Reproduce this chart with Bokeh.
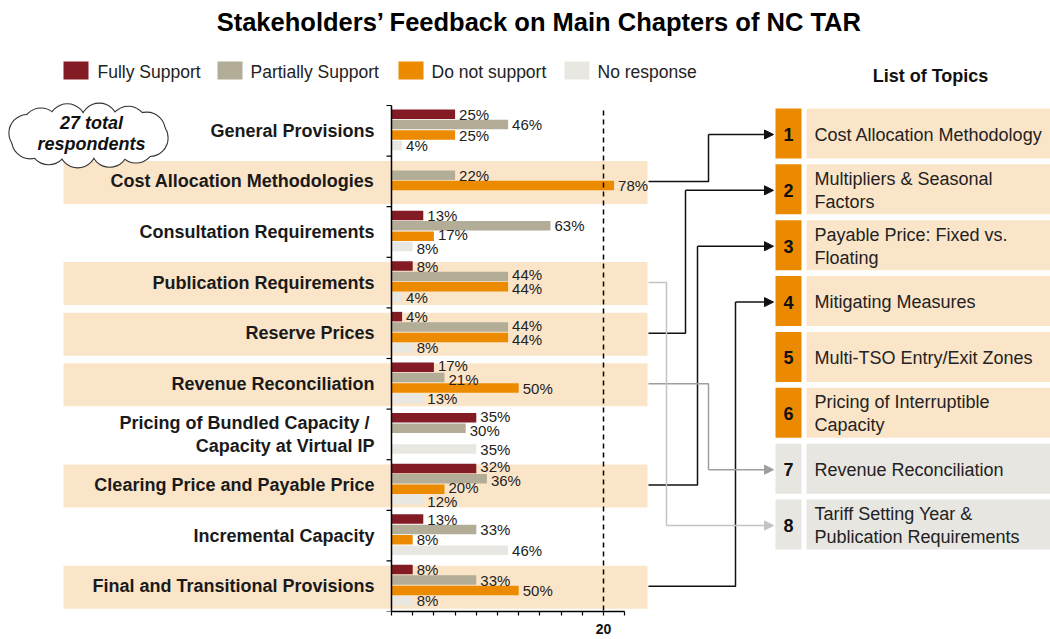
from bokeh.plotting import figure
from bokeh.models import Range1d, FixedTicker, ColumnDataSource, Arrow, NormalHead
from bokeh.core.properties import value
from bokeh.embed import file_html
from bokeh.resources import INLINE
import math

# ---------------- data ----------------
title = "Stakeholders\u2019 Feedback on Main Chapters of NC TAR"
chapters = ["General Provisions", "Cost Allocation Methodologies", "Consultation Requirements",
            "Publication Requirements", "Reserve Prices", "Revenue Reconciliation",
            "Pricing of Bundled Capacity / \nCapacity at Virtual IP",
            "Clearing Price and Payable Price", "Incremental Capacity",
            "Final and Transitional Provisions"]
series = ["Fully Support", "Partially Support", "Do not support", "No response"]
fully_support = [6, 0, 3, 2, 1, 4, 8, 8, 3, 2]
partially_support = [11, 6, 15, 11, 11, 5, 7, 9, 8, 8]
do_not_support = [6, 21, 4, 11, 11, 12, 0, 5, 2, 12]
no_response = [1, 0, 2, 1, 2, 3, 8, 3, 11, 2]
series_colors = ["#821B24", "#B3AC97", "#EC8B00", "#E8E7E2"]
x_ticks = [0, 2, 4, 6, 8, 10, 12, 14, 16, 18, 20, 22]
x_tick_labels = {20: "20"}
threshold = 20
respondents_note = "27 total\nrespondents"

topic_title = "List of Topics"
topic_numbers = ["1", "2", "3", "4", "5", "6", "7", "8"]
topic_labels = ["Cost Allocation Methodology", "Multipliers & Seasonal\nFactors",
                "Payable Price: Fixed vs.\nFloating", "Mitigating Measures",
                "Multi-TSO Entry/Exit Zones", "Pricing of Interruptible\nCapacity",
                "Revenue Reconciliation", "Tariff Setting Year &\nPublication Requirements"]
topic_is_main = [True, True, True, True, True, True, False, False]
link_chapter = [1, 4, 7, 9, 5, 3]      # index in chapters
link_topic = [1, 2, 3, 4, 7, 8]        # topic number

# ---------------- layout helpers (page pixels -> data units) ----------------
PX0, PXU = 391.0, 10.6     # x: count 0 at px 391, 10.6 px per respondent
PY0, PYU = 105.0, 50.6     # y: row 0 top at px 105, 50.6 px per row
def X(px): return (px - PX0) / PXU
def Y(py): return (py - PY0) / PYU
def DW(d): return d / PXU
def DH(d): return d / PYU

FONT = value("Liberation Sans")
n = len(chapters)

p = figure(width=1050, height=639, x_range=Range1d(X(0), X(1050)),
           y_range=Range1d(Y(611), Y(0)), output_backend="svg",
           toolbar_location=None, y_axis_location=None,
           min_border_left=0, min_border_right=0, min_border_top=0, min_border_bottom=28)
p.grid.visible = False
p.outline_line_color = None
p.background_fill_color = "white"
p.border_fill_color = "white"

ax = p.xaxis[0]
ax.bounds = (0, 22)
ax.ticker = FixedTicker(ticks=x_ticks)
ax.major_label_overrides = {t: x_tick_labels.get(t, "") for t in x_ticks}
ax.minor_tick_line_color = None
ax.major_tick_in = 0
ax.major_tick_out = 4
ax.axis_line_width = 1.5
ax.major_tick_line_width = 1.2
ax.axis_line_color = "black"
ax.major_tick_line_color = "black"
ax.major_label_standoff = 8
ax.major_label_text_font = "Liberation Sans"
ax.major_label_text_font_style = "bold"
ax.major_label_text_font_size = "14px"
ax.major_label_text_color = "#111111"

# highlight bands for linked chapters
band_rows = sorted(set(link_chapter))
p.rect(x=X(355), y=[r + 0.5 + DH(1) for r in band_rows], width=DW(584), height=DH(43),
       fill_color="#FBE5C9", line_color=None)

# cloud
cx, cy = 88, 135
angles = [i * 360 / 12 + 10 for i in range(12)]
bx = [X(cx + 62 * math.cos(math.radians(a))) for a in angles]
by = [Y(cy + 14 * math.sin(math.radians(a))) for a in angles]
p.scatter(x=bx, y=by, size=36, marker="circle", fill_color="white", line_color="#333333", line_width=2.2)
p.scatter(x=bx, y=by, size=36, marker="circle", fill_color="white", line_color=None)
p.ellipse(x=[X(cx)], y=[Y(cy)], width=DW(130), height=DH(34), fill_color="white", line_color=None)
p.text(x=[X(91)], y=[Y(133)], text=[respondents_note], text_font=FONT, text_font_style="bold italic",
       text_font_size="18px", text_align="center", text_baseline="middle", text_line_height=1.05,
       text_color="#111111")

# bars
vals = [fully_support, partially_support, do_not_support, no_response]
offsets = [-15.6, -5.2, 5.2, 15.6]
for k in range(4):
    ys = [i + 0.5 + DH(offsets[k] - 1) for i in range(n)]
    src = ColumnDataSource(dict(y=ys, right=vals[k]))
    p.hbar(y="y", left=0, right="right", height=DH(9.5), source=src,
           fill_color=series_colors[k], line_color=None)

# percentage labels (spread apart vertically when they would collide)
lx, ly, lt = [], [], []
sep = DH(14)
for i in range(n):
    tot = sum(v[i] for v in vals)
    row = []
    for k in range(4):
        c = vals[k][i]
        if c > 0:
            txt = "%d%%" % int(c * 100.0 / tot + 0.5)
            x0 = c * PXU + 4
            w = (len(txt) - 1) * 8.4 + 13.4
            row.append([c, i + 0.5 + DH(offsets[k] - 1), txt, x0, w])
    for _ in range(6):
        for a, b in zip(row[:-1], row[1:]):
            if a[3] < b[3] + b[4] and b[3] < a[3] + a[4] and b[1] - a[1] < sep:
                d = (sep - (b[1] - a[1])) / 2
                a[1] -= d
                b[1] += d
    for c, y, txt, _, _ in row:
        lx.append(c); ly.append(y); lt.append(txt)
p.text(x=lx, y=ly, text=lt, x_offset=4, text_font=FONT, text_font_size="15px",
       text_baseline="middle", text_align="left", text_color="#222222")

# threshold dashed line
p.segment(x0=[threshold], y0=[Y(110)], x1=[threshold], y1=[n], line_color="black",
          line_width=1.5, line_dash="5 4")

# y axis line and ticks
p.segment(x0=[0], y0=[0], x1=[0], y1=[n], line_color="black", line_width=1.5)
p.segment(x0=[-DW(5)] * (n + 1), y0=list(range(n + 1)), x1=[0] * (n + 1), y1=list(range(n + 1)),
          line_color="black", line_width=1.2)

# category labels
p.text(x=[X(374)] * n, y=[i + 0.5 for i in range(n)], text=chapters, text_font=FONT,
       text_font_style="bold", text_font_size="18px", text_align="right",
       text_baseline="middle", text_line_height=1.17, text_color="#1A1A1A")

# title
p.text(x=[X(539)], y=[Y(21)], text=[title], text_font=FONT, text_font_style="bold",
       text_font_size="25.5px", text_align="center", text_baseline="middle", text_color="#000000")

# legend
leg_box_px = [75.5, 229.5, 410.5, 576.5]
leg_txt_px = [97, 250, 431, 597]
p.rect(x=[X(v) for v in leg_box_px], y=[Y(70)] * 4, width=DW(25), height=DH(18),
       fill_color=series_colors, line_color=None)
p.text(x=[X(v) for v in leg_txt_px], y=[Y(71)] * 4, text=series, text_font=FONT,
       text_font_size="17.5px", text_baseline="middle", text_align="left", text_color="#222222")

# topic list
p.text(x=[X(930)], y=[Y(75)], text=[topic_title], text_font=FONT, text_font_style="bold",
       text_font_size="18px", text_align="center", text_baseline="middle", text_color="#111111")
nt = len(topic_numbers)
tc = [133 + 55.86 * k for k in range(nt)]
num_fill = ["#EB8A00" if m else "#E8E6E1" for m in topic_is_main]
txt_fill = ["#FBE5C9" if m else "#E8E6E1" for m in topic_is_main]
p.rect(x=[X(788)] * nt, y=[Y(v) for v in tc], width=DW(26), height=DH(50),
       fill_color=num_fill, line_color=None)
p.rect(x=[X(928)] * nt, y=[Y(v) for v in tc], width=DW(244), height=DH(50),
       fill_color=txt_fill, line_color=None)
p.text(x=[X(788)] * nt, y=[Y(v + 1) for v in tc], text=topic_numbers, text_font=FONT,
       text_font_style="bold", text_font_size="18px", text_align="center",
       text_baseline="middle", text_color="#111111")
p.text(x=[X(814)] * nt, y=[Y(v + 1) for v in tc], text=topic_labels, text_font=FONT,
       text_font_size="18px", text_align="left", text_baseline="middle",
       text_line_height=1.17, text_color="#222222")

# connectors
vert_px = {1: 708, 2: 685, 3: 697, 4: 735, 7: 708, 8: 666}
line_col = {7: "#9E9E9E", 8: "#C4C4C4"}
for ch, tp in zip(link_chapter, link_topic):
    col = line_col.get(tp, "#111111")
    ty = Y(tc[tp - 1] + 1)
    vx = X(vert_px[tp])
    p.line(x=[X(648), vx, vx], y=[ch + 0.5, ch + 0.5, ty], line_color=col, line_width=1.5)
    p.add_layout(Arrow(end=NormalHead(size=9, fill_color=col, line_color=col, line_width=1),
                       x_start=vx, y_start=ty, x_end=X(773), y_end=ty,
                       line_color=col, line_width=1.5))

open("out.html", "w").write(file_html(p, INLINE))
